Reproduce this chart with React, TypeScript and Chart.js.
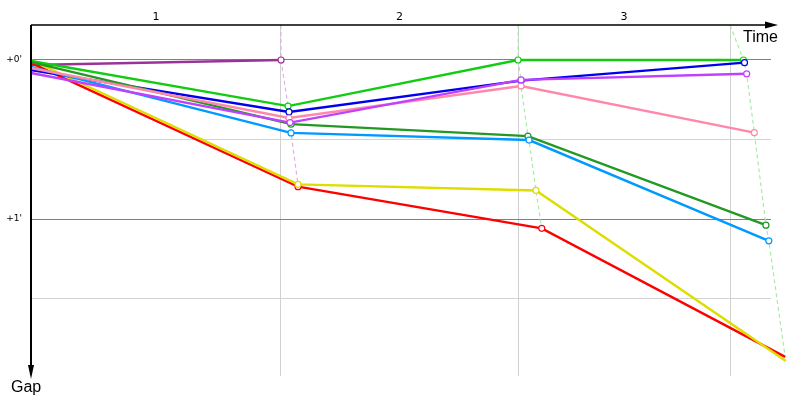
import React, { useEffect, useRef } from 'react';
import { Chart, registerables } from 'chart.js';

Chart.register(...registerables);

// ---- data (time in seconds, gap in seconds behind leader) ----
const lapNumbers = ['1', '2', '3'];
const lapLineTimes = [689, 1343, 1927];
const lapLineColors = ['#dcb4dc', '#aaeaaa', '#aaeaaa'];

const gapTickValues = [0, 30, 60, 90];
const gapTickLabels = ["+0'", '', "+1'", ''];

const greenTimes = [0, 708.6, 1342.7, 1964];
const greenGaps = [0.4, 17.4, 0, 0];

const blueTimes = [0, 711.3, 1351, 1967];
const blueGaps = [3.8, 19.6, 7.8, 1.0];

const pinkTimes = [0, 711.3, 1351, 1994];
const pinkGaps = [3.0, 21.9, 9.8, 27.4];

const violetTimes = [0, 714.1, 1351, 1973];
const violetGaps = [4.9, 23.6, 7.5, 5.2];

const darkGreenTimes = [0, 716.8, 1370, 2026];
const darkGreenGaps = [0.8, 24.2, 28.7, 62.3];

const skyTimes = [0, 716.8, 1373, 2034];
const skyGaps = [2.6, 27.5, 30.2, 68.2];

const yellowTimes = [0, 736.1, 1392, 2081];
const yellowGaps = [0.0, 46.9, 49.2, 113.5];

const redTimes = [0, 736.1, 1408, 2079];
const redGaps = [1.1, 47.8, 63.5, 112.0];

const purpleTimes = [0, 689.3];
const purpleGaps = [1.9, 0];

const TIME_MIN = 0;
const TIME_MAX = 2040;
const GAP_MIN = -13.2;
const GAP_MAX = 119.2;

const cars = [
  { name: 'Violet', color: '#c040ff', times: violetTimes, gaps: violetGaps },
  { name: 'Pink', color: '#ff88aa', times: pinkTimes, gaps: pinkGaps },
  { name: 'Sky', color: '#0099ff', times: skyTimes, gaps: skyGaps },
  { name: 'DarkGreen', color: '#229922', times: darkGreenTimes, gaps: darkGreenGaps },
  { name: 'Blue', color: '#0000ee', times: blueTimes, gaps: blueGaps },
  { name: 'Green', color: '#11cc11', times: greenTimes, gaps: greenGaps },
  { name: 'Yellow', color: '#dddd00', times: yellowTimes, gaps: yellowGaps },
  { name: 'Red', color: '#ff0000', times: redTimes, gaps: redGaps },
  { name: 'Purple', color: '#993399', times: purpleTimes, gaps: purpleGaps },
];

// x ticks: lap-centre labels and lap lines
const xTicks: { value: number; label: string; line: boolean }[] = [];
lapLineTimes.forEach((t, i) => {
  const prev = i === 0 ? TIME_MIN : lapLineTimes[i - 1];
  xTicks.push({ value: (prev + t) / 2, label: lapNumbers[i], line: false });
  xTicks.push({ value: t, label: '', line: true });
});

const arrowAxes = {
  id: 'arrowAxes',
  afterDraw(chart: any) {
    const { ctx, chartArea: a } = chart;
    ctx.save();
    ctx.strokeStyle = '#000';
    ctx.fillStyle = '#000';
    // top (time) axis
    ctx.lineWidth = 1.5;
    ctx.beginPath();
    ctx.moveTo(a.left, a.top);
    ctx.lineTo(a.right - 5, a.top);
    ctx.stroke();
    ctx.beginPath();
    ctx.moveTo(a.right + 7, a.top);
    ctx.lineTo(a.right - 6, a.top - 3.5);
    ctx.lineTo(a.right - 6, a.top + 3.5);
    ctx.closePath();
    ctx.fill();
    // left (gap) axis
    ctx.lineWidth = 2;
    ctx.beginPath();
    ctx.moveTo(a.left, a.top);
    ctx.lineTo(a.left, a.bottom - 8);
    ctx.stroke();
    ctx.beginPath();
    ctx.moveTo(a.left, a.bottom + 3);
    ctx.lineTo(a.left - 3, a.bottom - 11);
    ctx.lineTo(a.left + 3, a.bottom - 11);
    ctx.closePath();
    ctx.fill();
    // titles
    ctx.font = '16px "Liberation Sans", Arial, sans-serif';
    ctx.textBaseline = 'alphabetic';
    ctx.textAlign = 'left';
    ctx.fillText('Time', a.right - 28, a.top + 17);
    ctx.fillText('Gap', a.left - 20, a.bottom + 16);
    ctx.restore();
  },
};

export default function App() {
  const ref = useRef<HTMLCanvasElement | null>(null);

  useEffect(() => {
    if (!ref.current) return;

    const carSets = cars.map((c) => ({
      label: c.name,
      data: c.times.map((t, i) => ({ x: t, y: c.gaps[i] })),
      borderColor: c.color,
      backgroundColor: '#ffffff',
      borderWidth: 2.4,
      pointRadius: c.times.map((_, i) => (i === 0 ? 0 : 3)),
      pointBackgroundColor: '#ffffff',
      pointBorderColor: c.color,
      pointBorderWidth: 1.2,
      tension: 0,
      clip: false as any,
      order: 1,
    }));

    const lapSets = lapLineTimes.map((t, lap) => {
      const pts = cars
        .filter((c) => c.times.length > lap + 1)
        .map((c) => ({ x: c.times[lap + 1], y: c.gaps[lap + 1] }))
        .sort((p, q) => p.y - q.y);
      return {
        label: 'lap' + (lap + 1),
        data: [{ x: t, y: GAP_MIN }, ...pts],
        borderColor: lapLineColors[lap],
        borderWidth: 1.2,
        borderDash: [4, 3],
        pointRadius: 0,
        tension: 0,
        clip: false as any,
        order: 10,
      };
    });

    const chart = new Chart(ref.current, {
      type: 'line',
      data: { datasets: [...carSets, ...lapSets] as any },
      plugins: [arrowAxes],
      options: {
        animation: false,
        responsive: false,
        maintainAspectRatio: false,
        layout: { padding: { left: 0, top: 0, right: 29, bottom: 24 } },
        plugins: { legend: { display: false }, tooltip: { enabled: false } },
        scales: {
          x: {
            type: 'linear',
            position: 'top',
            min: TIME_MIN,
            max: TIME_MAX,
            afterBuildTicks: (s: any) => {
              s.ticks = xTicks.map((t) => ({ value: t.value }));
            },
            afterFit: (s: any) => {
              s.height = 25;
            },
            ticks: {
              autoSkip: false,
              maxRotation: 0,
              padding: 1,
              color: '#000',
              font: { family: '"DejaVu Sans", sans-serif', size: 11 },
              callback: (_v: any, i: number) => xTicks[i]?.label ?? '',
            },
            grid: {
              drawTicks: false,
              color: (ctx: any) => (xTicks[ctx.index]?.line ? '#d0d0d0' : 'rgba(0,0,0,0)'),
              lineWidth: 1,
            },
            border: { display: false },
          },
          y: {
            type: 'linear',
            reverse: true,
            min: GAP_MIN,
            max: GAP_MAX,
            afterBuildTicks: (s: any) => {
              s.ticks = gapTickValues.map((v) => ({ value: v }));
            },
            afterFit: (s: any) => {
              s.width = 31;
            },
            ticks: {
              autoSkip: false,
              padding: 9,
              color: '#000',
              font: { family: '"DejaVu Sans", sans-serif', size: 9 },
              callback: (_v: any, i: number) => gapTickLabels[i] ?? '',
            },
            grid: {
              drawTicks: false,
              color: (ctx: any) => (gapTickLabels[ctx.index] ? '#808080' : '#d3d3d3'),
              lineWidth: 1,
            },
            border: { display: false },
          },
        },
      } as any,
    });

    return () => chart.destroy();
  }, []);

  return (
    <div style={{ position: 'absolute', left: 0, top: 0, width: 800, height: 400, background: '#fff' }}>
      <canvas ref={ref} width={800} height={400} />
    </div>
  );
}
